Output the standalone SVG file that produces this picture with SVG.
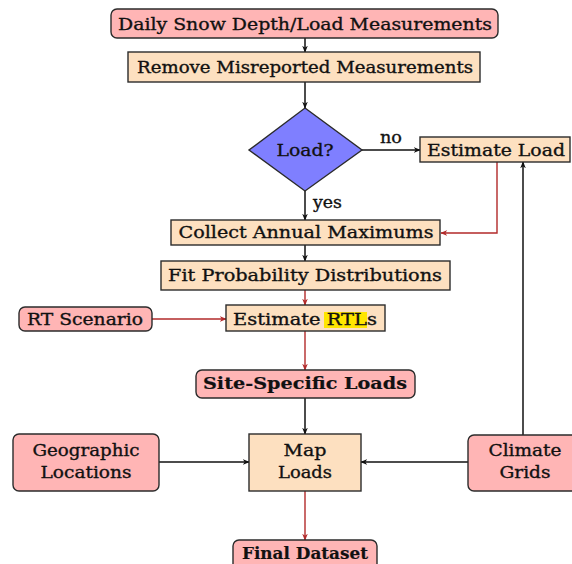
<svg xmlns="http://www.w3.org/2000/svg" width="572" height="564" viewBox="0 0 572 564">
<defs>
<style>
.red{fill:#ffb5b5;stroke:#2b2b2b;stroke-width:1.4}
.org{fill:#fde0c0;stroke:#2b2b2b;stroke-width:1.4}
.dia{fill:#7f7fff;stroke:#2b2b2b;stroke-width:1.4}
text{font-family:"DejaVu Serif","Liberation Serif",serif;font-size:17px;fill:#111;stroke:#111;stroke-width:0.35}
.b{font-weight:bold;stroke-width:0.2}
.k{fill:none;stroke:#111;stroke-width:1.5}
.r{fill:none;stroke:#b22a2a;stroke-width:1.4}
</style>
<marker id="ak" viewBox="0 0 10 10" refX="9" refY="5" markerWidth="7" markerHeight="7" markerUnits="userSpaceOnUse" orient="auto">
<path d="M0,1 L10,5 L0,9 L3,5 Z" fill="#111"/>
</marker>
<marker id="ar" viewBox="0 0 10 10" refX="9" refY="5" markerWidth="7" markerHeight="7" markerUnits="userSpaceOnUse" orient="auto">
<path d="M0,1 L10,5 L0,9 L3,5 Z" fill="#b22a2a"/>
</marker>
</defs>
<rect width="572" height="564" fill="#ffffff"/>
<g id="connectors">
<line class="k" x1="305" y1="38" x2="305" y2="52" marker-end="url(#ak)"/>
<line class="k" x1="305" y1="82" x2="305" y2="108" marker-end="url(#ak)"/>
<line class="k" x1="362" y1="150" x2="420" y2="150" marker-end="url(#ak)"/>
<line class="k" x1="305" y1="191" x2="305" y2="220" marker-end="url(#ak)"/>
<polyline class="r" points="497,162 497,233 441,233" marker-end="url(#ar)"/>
<line class="k" x1="305" y1="245" x2="305" y2="261" marker-end="url(#ak)"/>
<line class="r" x1="305" y1="290" x2="305" y2="305" marker-end="url(#ar)"/>
<line class="r" x1="152" y1="319" x2="226" y2="319" marker-end="url(#ar)"/>
<line class="r" x1="305" y1="331" x2="305" y2="370" marker-end="url(#ar)"/>
<line class="k" x1="305" y1="398" x2="305" y2="434" marker-end="url(#ak)"/>
<line class="k" x1="159" y1="462" x2="249" y2="462" marker-end="url(#ak)"/>
<line class="k" x1="468" y1="462" x2="361" y2="462" marker-end="url(#ak)"/>
<line class="k" x1="523" y1="435" x2="523" y2="162" marker-end="url(#ak)"/>
<line class="r" x1="305" y1="491" x2="305" y2="540" marker-end="url(#ar)"/>
</g>
<g id="n-daily">
<rect class="red" x="111" y="9" width="387" height="29" rx="6"/>
<text x="305" y="30" text-anchor="middle" textLength="374" lengthAdjust="spacingAndGlyphs">Daily Snow Depth/Load Measurements</text>
</g>
<g id="n-remove">
<rect class="org" x="128" y="52" width="352" height="30"/>
<text x="305" y="73" text-anchor="middle" textLength="336" lengthAdjust="spacingAndGlyphs">Remove Misreported Measurements</text>
</g>
<g id="n-load">
<polygon class="dia" points="305,108 362,150 305,191 249,150"/>
<text x="305" y="156" text-anchor="middle" textLength="57" lengthAdjust="spacingAndGlyphs">Load?</text>
</g>
<text x="391" y="143" text-anchor="middle" textLength="22" lengthAdjust="spacingAndGlyphs">no</text>
<text x="313" y="208" textLength="29" lengthAdjust="spacingAndGlyphs">yes</text>
<g id="n-estload">
<rect class="org" x="420" y="137" width="150" height="25"/>
<text x="496" y="156" text-anchor="middle" textLength="138" lengthAdjust="spacingAndGlyphs">Estimate Load</text>
</g>
<g id="n-collect">
<rect class="org" x="171" y="220" width="269" height="25"/>
<text x="306" y="238" text-anchor="middle" textLength="255" lengthAdjust="spacingAndGlyphs">Collect Annual Maximums</text>
</g>
<g id="n-fit">
<rect class="org" x="161" y="261" width="289" height="29"/>
<text x="305" y="281" text-anchor="middle" textLength="274" lengthAdjust="spacingAndGlyphs">Fit Probability Distributions</text>
</g>
<g id="n-rt">
<rect class="red" x="19" y="307" width="133" height="24" rx="6"/>
<text x="85" y="325" text-anchor="middle" textLength="116" lengthAdjust="spacingAndGlyphs">RT Scenario</text>
</g>
<g id="n-rtl">
<rect class="org" x="226" y="305" width="159" height="26"/>
<rect x="324" y="312" width="43" height="16" fill="#ffe600"/>
<text x="233" y="325" textLength="144" lengthAdjust="spacingAndGlyphs">Estimate RTLs</text>
</g>
<g id="n-site">
<rect class="red" x="196" y="370" width="219" height="28" rx="6"/>
<text class="b" x="305" y="389" text-anchor="middle" textLength="204" lengthAdjust="spacingAndGlyphs">Site-Specific Loads</text>
</g>
<g id="n-geo">
<rect class="red" x="13" y="434" width="146" height="57" rx="6"/>
<text x="86" y="456" text-anchor="middle" textLength="107" lengthAdjust="spacingAndGlyphs">Geographic</text>
<text x="86" y="478" text-anchor="middle" textLength="91" lengthAdjust="spacingAndGlyphs">Locations</text>
</g>
<g id="n-map">
<rect class="org" x="249" y="434" width="112" height="57"/>
<text x="305" y="456" text-anchor="middle" textLength="43" lengthAdjust="spacingAndGlyphs">Map</text>
<text x="305" y="478" text-anchor="middle" textLength="54" lengthAdjust="spacingAndGlyphs">Loads</text>
</g>
<g id="n-climate">
<rect class="red" x="468" y="435" width="114" height="56" rx="6"/>
<text x="525" y="456" text-anchor="middle" textLength="73" lengthAdjust="spacingAndGlyphs">Climate</text>
<text x="525" y="478" text-anchor="middle" textLength="51" lengthAdjust="spacingAndGlyphs">Grids</text>
</g>
<g id="n-final">
<rect class="red" x="233" y="540" width="144" height="30" rx="6"/>
<text class="b" x="305" y="559" text-anchor="middle" textLength="126" lengthAdjust="spacingAndGlyphs">Final Dataset</text>
</g>
</svg>
